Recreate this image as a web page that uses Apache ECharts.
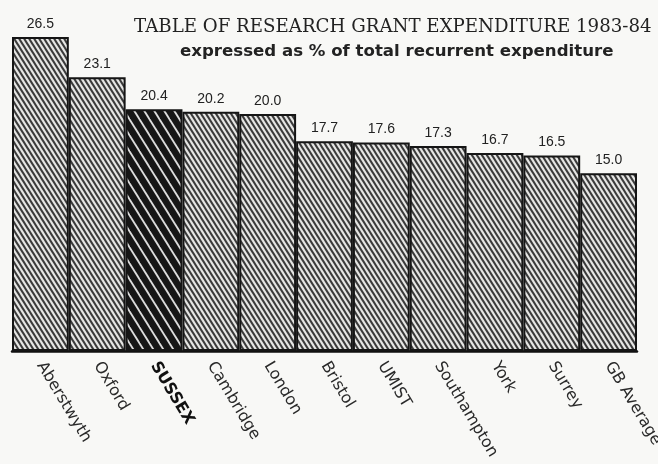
<!DOCTYPE html>
<html><head><meta charset="utf-8">
<script src="https://cdn.jsdelivr.net/npm/echarts@6/dist/echarts.min.js"></script>
<style>html,body{margin:0;padding:0;background:#f8f8f6}#c{width:658px;height:464px}</style>
</head><body><div id="c"></div>
<script>
const categories = ['Aberstwyth','Oxford','SUSSEX','Cambridge','London','Bristol','UMIST','Southampton','York','Surrey','GB Average'];
const values = [26.5, 23.1, 20.4, 20.2, 20.0, 17.7, 17.6, 17.3, 16.7, 16.5, 15.0];
const highlight = 'SUSSEX';

// diagonal "\" hatch, tile width p, height h (slope h/p)
function hatch(p, h, lw, fg, bg) {
  const c = document.createElement('canvas');
  c.width = p; c.height = h;
  const g = c.getContext('2d');
  g.fillStyle = bg; g.fillRect(0, 0, p, h);
  g.strokeStyle = fg; g.lineWidth = lw;
  for (const k of [-p, 0, p]) {
    g.beginPath(); g.moveTo(k - p * 0.5, -h * 0.5); g.lineTo(k + p * 1.5, h * 1.5); g.stroke();
  }
  return c;
}
const normalPat = { image: hatch(5, 8, 2.0, '#3a3a3a', '#e6e6e4'), repeat: 'repeat' };
const boldPat = { image: hatch(10, 16, 6.6, '#161616', '#dcdcdc'), repeat: 'repeat' };

const chart = echarts.init(document.getElementById('c'));
chart.setOption({
  backgroundColor: '#f8f8f6',
  animation: false,
  title: [
    { text: 'TABLE OF RESEARCH GRANT EXPENDITURE 1983-84', left: 129, top: 13,
      textStyle: { fontFamily: 'DejaVu Serif', fontSize: 18.2, fontWeight: 'normal', color: '#222' } },
    { text: 'expressed as % of total recurrent expenditure', left: 175, top: 38,
      textStyle: { fontFamily: 'DejaVu Sans', fontSize: 16.6, fontWeight: 'bold', color: '#222' } }
  ],
  grid: { left: 12, right: 21, top: 37, bottom: 113, outerBoundsMode: 'none', containLabel: false },
  xAxis: {
    type: 'category', data: categories,
    axisLine: { lineStyle: { color: '#111', width: 2.5 } },
    axisTick: { show: false },
    axisLabel: {
      rotate: -59, margin: 12, interval: 0, hideOverlap: false,
      fontFamily: 'DejaVu Sans', fontSize: 16, color: '#2a2a2a',
      formatter: v => v === highlight ? '{b|' + v + '}' : v,
      rich: { b: { fontWeight: 'bold', fontFamily: 'DejaVu Sans', fontSize: 16, color: '#111' } }
    }
  },
  yAxis: { type: 'value', min: 0, max: 26.5, show: false, splitLine: { show: false } },
  series: [{
    type: 'bar', barCategoryGap: 0,
    data: values.map((v, i) => ({
      value: v,
      itemStyle: { color: categories[i] === highlight ? boldPat : normalPat }
    })),
    itemStyle: { borderColor: '#151515', borderWidth: 2 },
    label: {
      show: true, position: 'top', distance: 6,
      formatter: p => p.value.toFixed(1),
      fontFamily: 'Liberation Sans', fontSize: 14, color: '#222'
    }
  }]
});
</script></body></html>
